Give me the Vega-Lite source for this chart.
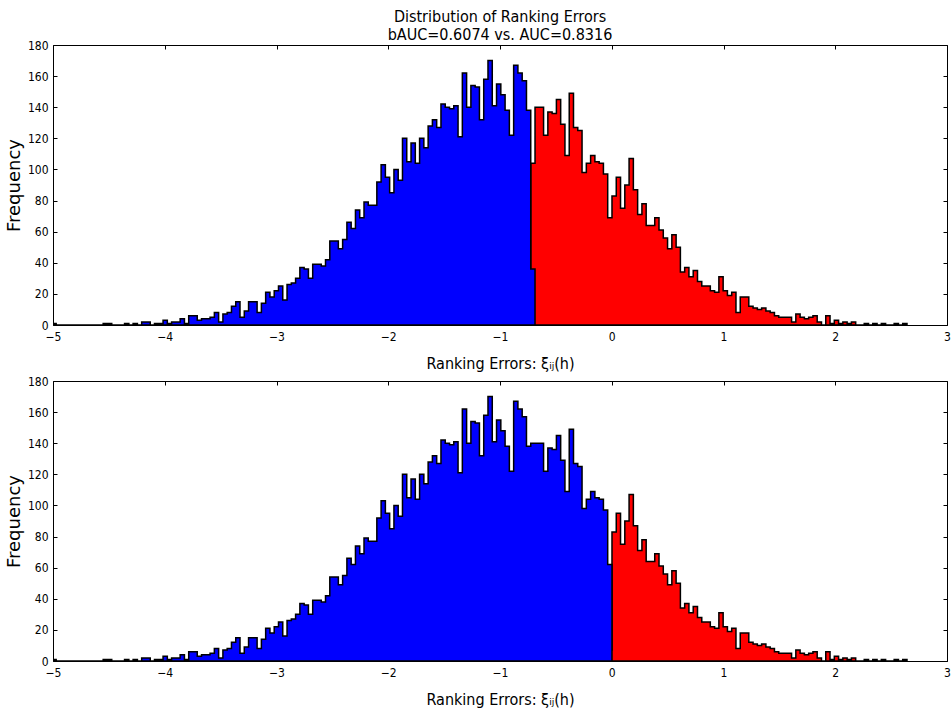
{
  "$schema": "https://vega.github.io/schema/vega-lite/v6.json",
  "background": "white",
  "padding": {"left": 4, "top": 8, "right": 3, "bottom": 3},
  "bounds": "flush",
  "spacing": 56,
  "title": {
    "text": ["Distribution of Ranking Errors", "bAUC=0.6074 vs. AUC=0.8316"],
    "font": "DejaVu Sans Condensed",
    "fontSize": 16,
    "fontWeight": "normal",
    "lineHeight": 18,
    "color": "black",
    "anchor": "middle",
    "frame": "group",
    "offset": -4
  },
  "config": {
    "view": {"stroke": "black", "strokeWidth": 1},
    "axis": {
      "grid": false,
      "domain": false,
      "ticks": true,
      "tickColor": "black",
      "tickSize": -4,
      "tickWidth": 1,
      "labelColor": "black",
      "labelFont": "DejaVu Sans Condensed",
      "labelFontSize": 12,
      "labelFlush": false,
      "labelOverlap": false,
      "titleColor": "black",
      "titleFont": "DejaVu Sans Condensed",
      "titleFontSize": 16,
      "titleFontWeight": "normal"
    }
  },
  "datasets": {
    "bins": [
      {"x": -5.01, "tb": 1, "bb": 1},
      {"x": -4.9717, "tb": 0, "bb": 0},
      {"x": -4.9335, "tb": 0, "bb": 0},
      {"x": -4.8952, "tb": 0, "bb": 0},
      {"x": -4.857, "tb": 0, "bb": 0},
      {"x": -4.8187, "tb": 0, "bb": 0},
      {"x": -4.7804, "tb": 0, "bb": 0},
      {"x": -4.7422, "tb": 0, "bb": 0},
      {"x": -4.7039, "tb": 0, "bb": 0},
      {"x": -4.6657, "tb": 0, "bb": 0},
      {"x": -4.6274, "tb": 0, "bb": 0},
      {"x": -4.5891, "tb": 0, "bb": 0},
      {"x": -4.5509, "tb": 1, "bb": 1},
      {"x": -4.5126, "tb": 1, "bb": 1},
      {"x": -4.4744, "tb": 0, "bb": 0},
      {"x": -4.4361, "tb": 0, "bb": 0},
      {"x": -4.3978, "tb": 0, "bb": 0},
      {"x": -4.3596, "tb": 1, "bb": 1},
      {"x": -4.3213, "tb": 0, "bb": 0},
      {"x": -4.2831, "tb": 1, "bb": 1},
      {"x": -4.2448, "tb": 0, "bb": 0},
      {"x": -4.2065, "tb": 2, "bb": 2},
      {"x": -4.1683, "tb": 2, "bb": 2},
      {"x": -4.13, "tb": 0, "bb": 0},
      {"x": -4.0918, "tb": 1, "bb": 1},
      {"x": -4.0535, "tb": 1, "bb": 1},
      {"x": -4.0152, "tb": 3, "bb": 3},
      {"x": -3.977, "tb": 1, "bb": 1},
      {"x": -3.9387, "tb": 2, "bb": 2},
      {"x": -3.9005, "tb": 2, "bb": 2},
      {"x": -3.8622, "tb": 4, "bb": 4},
      {"x": -3.8239, "tb": 1, "bb": 1},
      {"x": -3.7857, "tb": 6, "bb": 6},
      {"x": -3.7474, "tb": 6, "bb": 6},
      {"x": -3.7092, "tb": 3, "bb": 3},
      {"x": -3.6709, "tb": 4, "bb": 4},
      {"x": -3.6326, "tb": 4, "bb": 4},
      {"x": -3.5944, "tb": 5, "bb": 5},
      {"x": -3.5561, "tb": 8, "bb": 8},
      {"x": -3.5179, "tb": 2, "bb": 2},
      {"x": -3.4796, "tb": 7, "bb": 7},
      {"x": -3.4413, "tb": 8, "bb": 8},
      {"x": -3.4031, "tb": 12, "bb": 12},
      {"x": -3.3648, "tb": 15, "bb": 15},
      {"x": -3.3266, "tb": 5, "bb": 5},
      {"x": -3.2883, "tb": 9, "bb": 9},
      {"x": -3.25, "tb": 15, "bb": 15},
      {"x": -3.2118, "tb": 15, "bb": 15},
      {"x": -3.1735, "tb": 8, "bb": 8},
      {"x": -3.1353, "tb": 14, "bb": 14},
      {"x": -3.097, "tb": 21, "bb": 21},
      {"x": -3.0587, "tb": 18, "bb": 18},
      {"x": -3.0205, "tb": 22, "bb": 22},
      {"x": -2.9822, "tb": 25, "bb": 25},
      {"x": -2.944, "tb": 16, "bb": 16},
      {"x": -2.9057, "tb": 26, "bb": 26},
      {"x": -2.8674, "tb": 27, "bb": 27},
      {"x": -2.8292, "tb": 30, "bb": 30},
      {"x": -2.7909, "tb": 37, "bb": 37},
      {"x": -2.7527, "tb": 36, "bb": 36},
      {"x": -2.7144, "tb": 30, "bb": 30},
      {"x": -2.6761, "tb": 39, "bb": 39},
      {"x": -2.6379, "tb": 39, "bb": 39},
      {"x": -2.5996, "tb": 38, "bb": 38},
      {"x": -2.5614, "tb": 42, "bb": 42},
      {"x": -2.5231, "tb": 54, "bb": 54},
      {"x": -2.4848, "tb": 54, "bb": 54},
      {"x": -2.4466, "tb": 49, "bb": 49},
      {"x": -2.4083, "tb": 55, "bb": 55},
      {"x": -2.3701, "tb": 66, "bb": 66},
      {"x": -2.3318, "tb": 62, "bb": 62},
      {"x": -2.2935, "tb": 74, "bb": 74},
      {"x": -2.2553, "tb": 69, "bb": 69},
      {"x": -2.217, "tb": 79, "bb": 79},
      {"x": -2.1788, "tb": 77, "bb": 77},
      {"x": -2.1405, "tb": 77, "bb": 77},
      {"x": -2.1022, "tb": 92, "bb": 92},
      {"x": -2.064, "tb": 103, "bb": 103},
      {"x": -2.0257, "tb": 95, "bb": 95},
      {"x": -1.9875, "tb": 85, "bb": 85},
      {"x": -1.9492, "tb": 100, "bb": 100},
      {"x": -1.9109, "tb": 93, "bb": 93},
      {"x": -1.8727, "tb": 120, "bb": 120},
      {"x": -1.8344, "tb": 105, "bb": 105},
      {"x": -1.7962, "tb": 117, "bb": 117},
      {"x": -1.7579, "tb": 104, "bb": 104},
      {"x": -1.7196, "tb": 120, "bb": 120},
      {"x": -1.6814, "tb": 114, "bb": 114},
      {"x": -1.6431, "tb": 128, "bb": 128},
      {"x": -1.6049, "tb": 132, "bb": 132},
      {"x": -1.5666, "tb": 127, "bb": 127},
      {"x": -1.5283, "tb": 142, "bb": 142},
      {"x": -1.4901, "tb": 140, "bb": 140},
      {"x": -1.4518, "tb": 139, "bb": 139},
      {"x": -1.4136, "tb": 141, "bb": 141},
      {"x": -1.3753, "tb": 121, "bb": 121},
      {"x": -1.337, "tb": 162, "bb": 162},
      {"x": -1.2988, "tb": 140, "bb": 140},
      {"x": -1.2605, "tb": 154, "bb": 154},
      {"x": -1.2223, "tb": 153, "bb": 153},
      {"x": -1.184, "tb": 132, "bb": 132},
      {"x": -1.1457, "tb": 158, "bb": 158},
      {"x": -1.1075, "tb": 170, "bb": 170},
      {"x": -1.0692, "tb": 141, "bb": 141},
      {"x": -1.031, "tb": 155, "bb": 155},
      {"x": -0.9927, "tb": 148, "bb": 148},
      {"x": -0.9544, "tb": 138, "bb": 138},
      {"x": -0.9162, "tb": 122, "bb": 122},
      {"x": -0.8779, "tb": 167, "bb": 167},
      {"x": -0.8397, "tb": 162, "bb": 162},
      {"x": -0.8014, "tb": 157, "bb": 157},
      {"x": -0.7631, "tb": 138, "bb": 138},
      {"x": -0.7249, "tb": 36, "tr": 104, "bb": 140},
      {"x": -0.6866, "tb": 36, "tr": 140, "bb": 140},
      {"x": -0.6484, "tr": 140, "bb": 140},
      {"x": -0.6101, "tr": 122, "bb": 122},
      {"x": -0.5718, "tr": 137, "bb": 137},
      {"x": -0.5336, "tr": 136, "bb": 136},
      {"x": -0.4953, "tr": 145, "bb": 145},
      {"x": -0.4571, "tr": 129, "bb": 129},
      {"x": -0.4188, "tr": 109, "bb": 109},
      {"x": -0.3805, "tr": 149, "bb": 149},
      {"x": -0.3423, "tr": 127, "bb": 127},
      {"x": -0.304, "tr": 125, "bb": 125},
      {"x": -0.2658, "tr": 98, "bb": 98},
      {"x": -0.2275, "tr": 104, "bb": 104},
      {"x": -0.1892, "tr": 109, "bb": 109},
      {"x": -0.151, "tr": 105, "bb": 105},
      {"x": -0.1127, "tr": 104, "bb": 104},
      {"x": -0.0745, "tr": 97, "bb": 97},
      {"x": -0.0362, "tr": 69, "bb": 62, "br": 7},
      {"x": 0.0021, "tr": 83, "bb": 62, "br": 83},
      {"x": 0.0403, "tr": 95, "br": 95},
      {"x": 0.0786, "tr": 75, "br": 75},
      {"x": 0.1168, "tr": 90, "br": 90},
      {"x": 0.1551, "tr": 107, "br": 107},
      {"x": 0.1934, "tr": 87, "br": 87},
      {"x": 0.2316, "tr": 71, "br": 71},
      {"x": 0.2699, "tr": 78, "br": 78},
      {"x": 0.3081, "tr": 64, "br": 64},
      {"x": 0.3464, "tr": 64, "br": 64},
      {"x": 0.3847, "tr": 69, "br": 69},
      {"x": 0.4229, "tr": 61, "br": 61},
      {"x": 0.4612, "tr": 56, "br": 56},
      {"x": 0.4994, "tr": 49, "br": 49},
      {"x": 0.5377, "tr": 58, "br": 58},
      {"x": 0.576, "tr": 50, "br": 50},
      {"x": 0.6142, "tr": 34, "br": 34},
      {"x": 0.6525, "tr": 37, "br": 37},
      {"x": 0.6907, "tr": 31, "br": 31},
      {"x": 0.729, "tr": 35, "br": 35},
      {"x": 0.7673, "tr": 28, "br": 28},
      {"x": 0.8055, "tr": 25, "br": 25},
      {"x": 0.8438, "tr": 25, "br": 25},
      {"x": 0.882, "tr": 22, "br": 22},
      {"x": 0.9203, "tr": 21, "br": 21},
      {"x": 0.9586, "tr": 31, "br": 31},
      {"x": 0.9968, "tr": 22, "br": 22},
      {"x": 1.0351, "tr": 19, "br": 19},
      {"x": 1.0733, "tr": 21, "br": 21},
      {"x": 1.1116, "tr": 8, "br": 8},
      {"x": 1.1499, "tr": 18, "br": 18},
      {"x": 1.1881, "tr": 18, "br": 18},
      {"x": 1.2264, "tr": 12, "br": 12},
      {"x": 1.2646, "tr": 11, "br": 11},
      {"x": 1.3029, "tr": 10, "br": 10},
      {"x": 1.3412, "tr": 11, "br": 11},
      {"x": 1.3794, "tr": 9, "br": 9},
      {"x": 1.4177, "tr": 8, "br": 8},
      {"x": 1.4559, "tr": 6, "br": 6},
      {"x": 1.4942, "tr": 5, "br": 5},
      {"x": 1.5325, "tr": 5, "br": 5},
      {"x": 1.5707, "tr": 5, "br": 5},
      {"x": 1.609, "tr": 2, "br": 2},
      {"x": 1.6472, "tr": 7, "br": 7},
      {"x": 1.6855, "tr": 5, "br": 5},
      {"x": 1.7238, "tr": 4, "br": 4},
      {"x": 1.762, "tr": 5, "br": 5},
      {"x": 1.8003, "tr": 6, "br": 6},
      {"x": 1.8385, "tr": 2, "br": 2},
      {"x": 1.8768, "tr": 0, "br": 0},
      {"x": 1.9151, "tr": 6, "br": 6},
      {"x": 1.9533, "tr": 1, "br": 1},
      {"x": 1.9916, "tr": 3, "br": 3},
      {"x": 2.0298, "tr": 1, "br": 1},
      {"x": 2.0681, "tr": 2, "br": 2},
      {"x": 2.1064, "tr": 1, "br": 1},
      {"x": 2.1446, "tr": 2, "br": 2},
      {"x": 2.1829, "tr": 0, "br": 0},
      {"x": 2.2211, "tr": 0, "br": 0},
      {"x": 2.2594, "tr": 1, "br": 1},
      {"x": 2.2977, "tr": 0, "br": 0},
      {"x": 2.3359, "tr": 1, "br": 1},
      {"x": 2.3742, "tr": 0, "br": 0},
      {"x": 2.4124, "tr": 1, "br": 1},
      {"x": 2.4507, "tr": 0, "br": 0},
      {"x": 2.489, "tr": 0, "br": 0},
      {"x": 2.5272, "tr": 1, "br": 1},
      {"x": 2.5655, "tr": 0, "br": 0},
      {"x": 2.6037, "tr": 1, "br": 1},
      {"x": 2.642, "tr": 1, "br": 1}
    ]
  },
  "vconcat": [
    {
      "width": 894,
      "height": 280,
      "data": {"name": "bins"},
      "resolve": {"axis": {"x": "independent", "y": "independent"}},
      "layer": [
        {
          "transform": [{"filter": "isValid(datum.tr)"}],
          "mark": {"type": "area", "interpolate": "step-after", "fill": "#ff0000", "stroke": "black", "strokeWidth": 1.5, "clip": true},
          "encoding": {
            "x": {"field": "x", "type": "quantitative", "scale": {"domain": [-5, 3], "nice": false, "zero": false},
                  "axis": {"orient": "top", "labels": false, "title": null, "values": [-5, -4, -3, -2, -1, 0, 1, 2, 3]}},
            "y": {"field": "tr", "type": "quantitative", "scale": {"domain": [0, 180], "nice": false},
                  "axis": {"orient": "right", "labels": false, "title": null, "values": [0, 20, 40, 60, 80, 100, 120, 140, 160, 180]}}
          }
        },
        {
          "transform": [{"filter": "isValid(datum.tb)"}],
          "mark": {"type": "area", "interpolate": "step-after", "fill": "#0000ff", "stroke": "black", "strokeWidth": 1.5, "clip": true},
          "encoding": {
            "x": {"field": "x", "type": "quantitative", "scale": {"domain": [-5, 3], "nice": false, "zero": false},
                  "axis": {"orient": "bottom", "labelPadding": 10, "values": [-5, -4, -3, -2, -1, 0, 1, 2, 3],
                           "title": "Ranking Errors: ξᵢⱼ(h)", "titleY": 38, "titleBaseline": "middle", "titleAlign": "center"}},
            "y": {"field": "tb", "type": "quantitative", "scale": {"domain": [0, 180], "nice": false},
                  "axis": {"orient": "left", "labelPadding": 9, "values": [0, 20, 40, 60, 80, 100, 120, 140, 160, 180],
                           "title": "Frequency", "titleFont": "DejaVu Sans", "titleFontSize": 18, "titleX": -39, "titleY": 140, "titleAngle": -90, "titleBaseline": "middle", "titleAlign": "center"}}
          }
        }
      ]
    },
    {
      "width": 894,
      "height": 280,
      "data": {"name": "bins"},
      "resolve": {"axis": {"x": "independent", "y": "independent"}},
      "layer": [
        {
          "transform": [{"filter": "isValid(datum.br)"}],
          "mark": {"type": "area", "interpolate": "step-after", "fill": "#ff0000", "stroke": "black", "strokeWidth": 1.5, "clip": true},
          "encoding": {
            "x": {"field": "x", "type": "quantitative", "scale": {"domain": [-5, 3], "nice": false, "zero": false},
                  "axis": {"orient": "top", "labels": false, "title": null, "values": [-5, -4, -3, -2, -1, 0, 1, 2, 3]}},
            "y": {"field": "br", "type": "quantitative", "scale": {"domain": [0, 180], "nice": false},
                  "axis": {"orient": "right", "labels": false, "title": null, "values": [0, 20, 40, 60, 80, 100, 120, 140, 160, 180]}}
          }
        },
        {
          "transform": [{"filter": "isValid(datum.bb)"}],
          "mark": {"type": "area", "interpolate": "step-after", "fill": "#0000ff", "stroke": "black", "strokeWidth": 1.5, "clip": true},
          "encoding": {
            "x": {"field": "x", "type": "quantitative", "scale": {"domain": [-5, 3], "nice": false, "zero": false},
                  "axis": {"orient": "bottom", "labelPadding": 10, "values": [-5, -4, -3, -2, -1, 0, 1, 2, 3],
                           "title": "Ranking Errors: ξᵢⱼ(h)", "titleY": 38, "titleBaseline": "middle", "titleAlign": "center"}},
            "y": {"field": "bb", "type": "quantitative", "scale": {"domain": [0, 180], "nice": false},
                  "axis": {"orient": "left", "labelPadding": 9, "values": [0, 20, 40, 60, 80, 100, 120, 140, 160, 180],
                           "title": "Frequency", "titleFont": "DejaVu Sans", "titleFontSize": 18, "titleX": -39, "titleY": 140, "titleAngle": -90, "titleBaseline": "middle", "titleAlign": "center"}}
          }
        }
      ]
    }
  ]
}
